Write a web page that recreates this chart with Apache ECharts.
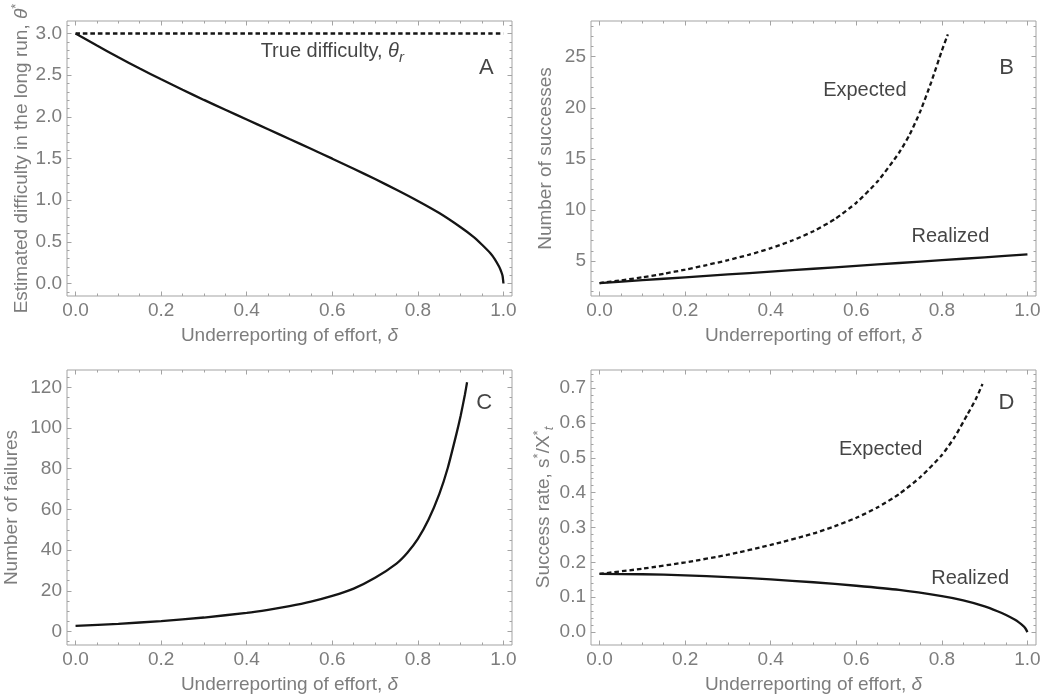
<!DOCTYPE html>
<html><head><meta charset="utf-8">
<script src="https://cdn.jsdelivr.net/npm/echarts@6/dist/echarts.min.js"></script>
<style>html,body{margin:0;padding:0;background:#fff}#c{width:1048px;height:698px}</style>
</head><body><div id="c"></div>
<script>
// ---------- data ----------
const xMajor = [0, 0.2, 0.4, 0.6, 0.8, 1.0];
const xMinor = [0.05,0.1,0.15,0.25,0.3,0.35,0.45,0.5,0.55,0.65,0.7,0.75,0.85,0.9,0.95];

const aYMajor = [0, 0.5, 1, 1.5, 2, 2.5, 3];
const aYMinor = [-0.1,0.1,0.2,0.3,0.4,0.6,0.7,0.8,0.9,1.1,1.2,1.3,1.4,1.6,1.7,1.8,1.9,2.1,2.2,2.3,2.4,2.6,2.7,2.8,2.9,3.1];
const bYMajor = [5, 10, 15, 20, 25];
const bYMinor = [2,3,4,6,7,8,9,11,12,13,14,16,17,18,19,21,22,23,24,26,27,28];
const cYMajor = [0, 20, 40, 60, 80, 100, 120];
const cYMinor = [-5,5,10,15,25,30,35,45,50,55,65,70,75,85,90,95,105,110,115,125];
const dYMajor = [0, 0.1, 0.2, 0.3, 0.4, 0.5, 0.6, 0.7];
const dYMinor = [0.02,0.04,0.06,0.08,0.12,0.14,0.16,0.18,0.22,0.24,0.26,0.28,0.32,0.34,0.36,0.38,0.42,0.44,0.46,0.48,0.52,0.54,0.56,0.58,0.62,0.64,0.66,0.68,0.72,0.74];

// Panel A: estimated difficulty
const aDelta = [0,0.05,0.1,0.15,0.2,0.25,0.3,0.35,0.4,0.45,0.5,0.55,0.6,0.65,0.7,0.75,0.8,0.85,0.9,0.93,0.95,0.97,0.98,0.99,0.995,0.998,1.0];
const aTheta = [3.0,2.855,2.715,2.58,2.45,2.325,2.203,2.085,1.968,1.851,1.734,1.617,1.498,1.377,1.253,1.125,0.99,0.845,0.675,0.56,0.465,0.36,0.29,0.2,0.14,0.09,0.0];
const aTrueDelta = [0, 1];
const aTrue = [3, 3];

// Panel B: number of successes
const bRealDelta = [0,0.1,0.2,0.3,0.4,0.5,0.6,0.7,0.8,0.9,1.0];
const bReal = [2.84,3.12,3.40,3.68,3.96,4.24,4.52,4.80,5.08,5.36,5.65];
const bExpDelta = [0,0.05,0.1,0.15,0.2,0.25,0.3,0.35,0.4,0.45,0.5,0.55,0.6,0.65,0.7,0.725,0.75,0.775,0.8,0.814];
const bExp = [2.84,3.1,3.4,3.75,4.15,4.6,5.08,5.62,6.25,7.0,7.92,9.1,10.7,12.8,15.6,17.4,19.7,22.5,25.6,27.2];

// Panel C: number of failures
const cDelta = [0,0.1,0.2,0.3,0.4,0.45,0.5,0.55,0.6,0.65,0.7,0.75,0.775,0.8,0.825,0.85,0.87,0.89,0.9,0.91,0.915];
const cFail = [2.8,3.8,5.15,6.9,9.2,10.7,12.5,14.7,17.5,21.1,26.4,33.4,38.6,45.5,55.0,67.5,80.5,97,106,116.5,122.5];

// Panel D: success rate
const dRealDelta = [0,0.1,0.2,0.3,0.4,0.5,0.6,0.7,0.8,0.85,0.9,0.93,0.95,0.97,0.98,0.99,0.995,1.0];
const dReal = [0.167,0.166,0.163,0.158,0.151,0.143,0.133,0.121,0.103,0.091,0.074,0.060,0.049,0.036,0.028,0.018,0.011,0.0];
const dExpDelta = [0,0.1,0.2,0.3,0.4,0.5,0.55,0.6,0.65,0.7,0.75,0.8,0.83,0.86,0.88,0.895];
const dExp = [0.167,0.182,0.200,0.222,0.250,0.283,0.304,0.328,0.358,0.396,0.445,0.508,0.560,0.625,0.670,0.712];

// annotations [x, y, text]
const annA = [[0.60, 2.78, '{t|True difficulty, }{i|θ}{sub|r}']];
const annB = [[0.62, 21.7, '{t|Expected}'], [0.82, 7.35, '{t|Realized}']];
const annD = [[0.657, 0.525, '{t|Expected}'], [0.866, 0.155, '{t|Realized}']];
const letters = [[0.96, 2.59, 'A'], [0.951, 23.94, 'B'], [0.955, 112.3, 'C'], [0.951, 0.657, 'D']];

// ---------- style ----------
const FONT = "'Liberation Sans', Arial, Helvetica, sans-serif";
const FRAME = '#a3a3a3';
const GRAY = '#7d7d7d';
const INK = '#151515';
const FS = 19;

const nameRich = {
  t: {color: GRAY, fontSize: FS, fontFamily: FONT, lineHeight: 24},
  i: {color: GRAY, fontSize: FS, fontFamily: FONT, fontStyle: 'italic', lineHeight: 24},
  sup: {color: GRAY, fontSize: 13, fontFamily: FONT, verticalAlign: 'top', lineHeight: 13},
  sub: {color: GRAY, fontSize: 13, fontFamily: FONT, fontStyle: 'italic', verticalAlign: 'bottom', lineHeight: 13}
};
const annRich = {
  t: {color: INK, fontSize: 20, fontFamily: FONT, lineHeight: 26},
  i: {color: INK, fontSize: 20, fontFamily: FONT, fontStyle: 'italic', lineHeight: 26},
  sub: {color: INK, fontSize: 15, fontFamily: FONT, fontStyle: 'italic', verticalAlign: 'bottom', lineHeight: 15}
};

const grids = [
  {left: 67, top: 21, width: 445, height: 275},
  {left: 591, top: 21, width: 445, height: 275},
  {left: 67, top: 370, width: 445, height: 275},
  {left: 591, top: 370, width: 445, height: 275}
].map(g => Object.assign(g, {show: true, borderColor: FRAME, borderWidth: 1, backgroundColor: 'transparent', containLabel: false}));

const xAxes = [], yAxes = [];
function addAxes(list, dim, g, min, max, majors, minors, fmt, name, nameGap) {
  const pos = dim === 'x' ? ['bottom', 'top'] : ['left', 'right'];
  const base = {type: 'value', gridIndex: g, min: min, max: max, splitLine: {show: false},
    axisLine: {show: false, onZero: false}, silent: true};
  const mainIdx = list.length;
  list.push(Object.assign({}, base, {
    position: pos[0],
    axisTick: {show: true, inside: true, length: 4.5, customValues: majors, lineStyle: {color: FRAME, width: 1}},
    axisLabel: {show: true, customValues: majors, formatter: fmt, color: GRAY, fontSize: FS, fontFamily: FONT, margin: 5},
    name: name, nameLocation: 'middle', nameGap: nameGap,
    nameTextStyle: {color: GRAY, fontSize: FS, fontFamily: FONT, rich: nameRich}
  }));
  list.push(Object.assign({}, base, {position: pos[0],
    axisTick: {show: true, inside: true, length: 2.5, customValues: minors, lineStyle: {color: FRAME, width: 1}},
    axisLabel: {show: false}}));
  list.push(Object.assign({}, base, {position: pos[1],
    axisTick: {show: true, inside: true, length: 4.5, customValues: majors, lineStyle: {color: FRAME, width: 1}},
    axisLabel: {show: false}}));
  list.push(Object.assign({}, base, {position: pos[1],
    axisTick: {show: true, inside: true, length: 2.5, customValues: minors, lineStyle: {color: FRAME, width: 1}},
    axisLabel: {show: false}}));
  return mainIdx;
}
const f1 = v => v.toFixed(1);
const f0 = v => String(Math.round(v));
const xName = '{t|Underreporting of effort, }{i|δ}';

const ax = [];
const yCfg = [
  [-0.15, 3.15, aYMajor, aYMinor, f1, '{t|Estimated difficulty in the long run, }{i|θ}{sup|*}', 33],
  [1.57, 28.5, bYMajor, bYMinor, f0, '{t|Number of successes}', 33],
  [-6.6, 128.5, cYMajor, cYMinor, f0, '{t|Number of failures}', 43],
  [-0.037, 0.752, dYMajor, dYMinor, f1, '{t|Success rate, s}{sup|*}{t|/X}{sup|*}{sub|t}', 32]
];
for (let g = 0; g < 4; g++) {
  const xi = addAxes(xAxes, 'x', g, -0.02, 1.02, xMajor, xMinor, f1, xName, 27.5);
  const c = yCfg[g];
  const yi = addAxes(yAxes, 'y', g, c[0], c[1], c[2], c[3], c[4], c[5], c[6]);
  ax.push([xi, yi]);
}

function zip(xs, ys) { return xs.map((x, i) => [x, ys[i]]); }
function line(g, xs, ys, dashed) {
  return {type: 'line', xAxisIndex: ax[g][0], yAxisIndex: ax[g][1], data: zip(xs, ys),
    showSymbol: false, smooth: 0.2, silent: true, animation: false,
    lineStyle: {color: INK, width: 2.3, type: dashed ? [4.5, 3] : 'solid', cap: 'butt'}};
}
function texts(g, arr, rich, size) {
  return {type: 'scatter', xAxisIndex: ax[g][0], yAxisIndex: ax[g][1], silent: true, animation: false,
    symbolSize: 1, itemStyle: {color: 'transparent'},
    data: arr.map(a => ({value: [a[0], a[1]], name: a[2]})),
    label: {show: true, position: 'inside', formatter: p => p.name, color: INK, fontSize: size, fontFamily: FONT, rich: rich}};
}

const series = [
  line(0, aTrueDelta, aTrue, true),
  line(0, aDelta, aTheta, false),
  line(1, bExpDelta, bExp, true),
  line(1, bRealDelta, bReal, false),
  line(2, cDelta, cFail, false),
  line(3, dExpDelta, dExp, true),
  line(3, dRealDelta, dReal, false),
  texts(0, annA, annRich, 20),
  texts(1, annB, annRich, 20),
  texts(3, annD, annRich, 20)
];
letters.forEach((l, g) => series.push(texts(g, [l], annRich, 22)));

const chart = echarts.init(document.getElementById('c'), null, {renderer: 'canvas'});
chart.setOption({
  backgroundColor: '#ffffff',
  animation: false,
  grid: grids,
  xAxis: xAxes,
  yAxis: yAxes,
  series: series
});
</script>
</body></html>
